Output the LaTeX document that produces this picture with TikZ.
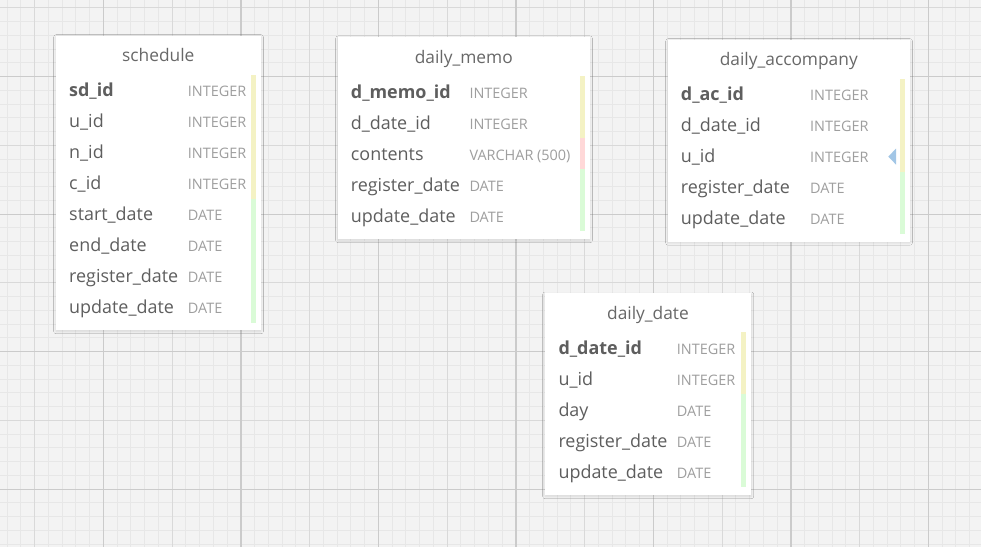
\documentclass[tikz,border=0pt]{standalone}
\usepackage{fontspec}
\setmainfont{Open Sans}
\usepackage{tikz}
\usetikzlibrary{shadows.blur}

\definecolor{gridbg}{HTML}{F3F3F3}
\definecolor{gridminor}{HTML}{E7E7E7}
\definecolor{gridlight}{HTML}{D9D9D9}
\definecolor{griddark}{HTML}{CBCBCB}
\definecolor{namegray}{HTML}{5E5E5E}
\definecolor{typegray}{HTML}{9E9E9E}
\definecolor{titlegray}{HTML}{686868}
\definecolor{keyyellow}{HTML}{F4F2C4}
\definecolor{datagreen}{HTML}{DAFBD7}
\definecolor{textpink}{HTML}{FFD8D8}
\definecolor{refblue}{HTML}{A2C6E6}

\tikzset{
  minorline/.style={gridminor, line width=1bp},
  lightline/.style={gridlight, line width=1bp},
  darkline/.style={griddark, line width=1.3bp},
  tablebox/.style={fill=white, anchor=north west, inner sep=0pt,
    blur shadow={shadow xshift=0bp, shadow yshift=-1bp, shadow blur radius=2.5bp, shadow blur steps=8, shadow opacity=12}},
  tabletitle/.style={anchor=base, inner sep=0pt, text=titlegray, font=\fontsize{17.4}{20}\selectfont},
  colname/.style={anchor=base west, inner sep=0pt, text=namegray, font=\fontsize{18}{21}\selectfont},
  pkname/.style={colname, font=\fontsize{18}{21}\selectfont\bfseries},
  coltype/.style={anchor=base west, inner sep=0pt, text=typegray, font=\fontsize{14.5}{17}\selectfont},
  keybar/.style={fill=keyyellow},
  databar/.style={fill=datagreen},
  textbar/.style={fill=textpink}
}

\begin{document}
\begin{tikzpicture}[x=1bp, y=-1bp]
    \useasboundingbox (0,0) rectangle (981,547);

    % grid
    \fill[gridbg] (0,0) rectangle (981,547);
    \foreach \k in {0,...,71} \draw[minorline] ({7.1+13.75*\k},0) -- ++(0,547);
    \foreach \k in {0,...,39} \draw[minorline] (0,{7.95+13.75*\k}) -- ++(981,0);
    \foreach \k in {0,...,6} \draw[lightline] ({34.6+137.5*\k},0) -- ++(0,547);
    \foreach \k in {0,...,3} \draw[lightline] (0,{7.95+137.5*\k}) -- ++(981,0);
    \foreach \k in {0,...,6} \draw[darkline] ({103.35+137.5*\k},0) -- ++(0,547);
    \foreach \k in {0,...,3} \draw[darkline] (0,{76.7+137.5*\k}) -- ++(981,0);

    % schedule
    \begin{scope}[shift={(56,36)}]
        \node[tablebox, minimum width=204.7bp, minimum height=294bp] (sd) at (0,0) {};
        \node[tabletitle] (sd-title) at (102.3,26) {schedule};
        \node[pkname] (sd-n0) at (13,61) {sd\_id};
        \node[coltype] (sd-t0) at (131.7,61) {INTEGER};
        \foreach \n/\t [count=\i] in {u\_id/INTEGER, n\_id/INTEGER, c\_id/INTEGER, start\_date/DATE, end\_date/DATE, register\_date/DATE, update\_date/DATE} {
            \node[colname] (sd-n\i) at (13,{61+31*\i}) {\n};
            \node[coltype] (sd-t\i) at (131.7,{61+31*\i}) {\t};
        }
        \fill[keybar] (195,39) rectangle (200,163);
        \fill[databar] (195,163) rectangle (200,287);
    \end{scope}

    % daily_memo
    \begin{scope}[shift={(338,37.3)}]
        \node[tablebox, minimum width=251.7bp, minimum height=201.7bp] (memo) at (0,0) {};
        \node[tabletitle] (memo-title) at (125.8,26) {daily\_memo};
        \node[pkname] (memo-n0) at (12.7,61) {d\_memo\_id};
        \node[coltype] (memo-t0) at (131.3,61) {INTEGER};
        \foreach \n/\t [count=\i] in {d\_date\_id/INTEGER, contents/VARCHAR (500), register\_date/DATE, update\_date/DATE} {
            \node[colname] (memo-n\i) at (12.7,{61+31*\i}) {\n};
            \node[coltype] (memo-t\i) at (131.3,{61+31*\i}) {\t};
        }
        \fill[keybar] (242,39) rectangle (247,101);
        \fill[textbar] (242,101) rectangle (247,132);
        \fill[databar] (242,132) rectangle (247,194);
    \end{scope}

    % daily_accompany
    \begin{scope}[shift={(668,40)}]
        \node[tablebox, minimum width=241.7bp, minimum height=201.5bp] (acc) at (0,0) {};
        \node[tabletitle] (acc-title) at (120.8,26) {daily\_accompany};
        \node[pkname] (acc-n0) at (12.7,61) {d\_ac\_id};
        \node[coltype] (acc-t0) at (142,61) {INTEGER};
        \foreach \n/\t [count=\i] in {d\_date\_id/INTEGER, u\_id/INTEGER, register\_date/DATE, update\_date/DATE} {
            \node[colname] (acc-n\i) at (12.7,{61+31*\i}) {\n};
            \node[coltype] (acc-t\i) at (142,{61+31*\i}) {\t};
        }
        \fill[keybar] (232,39) rectangle (237,132);
        \fill[databar] (232,132) rectangle (237,194);
        \fill[refblue] (220.3,116.6) -- (228,108.6) -- (228,124.6) -- cycle;
    \end{scope}

    % daily_date
    \begin{scope}[shift={(545,293.3)}]
        \node[tablebox, minimum width=206bp, minimum height=201.7bp] (dd) at (0,0) {};
        \node[tabletitle] (dd-title) at (103,26) {daily\_date};
        \node[pkname] (dd-n0) at (13.3,61) {d\_date\_id};
        \node[coltype] (dd-t0) at (131.7,61) {INTEGER};
        \foreach \n/\t [count=\i] in {u\_id/INTEGER, day/DATE, register\_date/DATE, update\_date/DATE} {
            \node[colname] (dd-n\i) at (13.3,{61+31*\i}) {\n};
            \node[coltype] (dd-t\i) at (131.7,{61+31*\i}) {\t};
        }
        \fill[keybar] (196,39) rectangle (201,101);
        \fill[databar] (196,101) rectangle (201,194);
    \end{scope}
\end{tikzpicture}
\end{document}
